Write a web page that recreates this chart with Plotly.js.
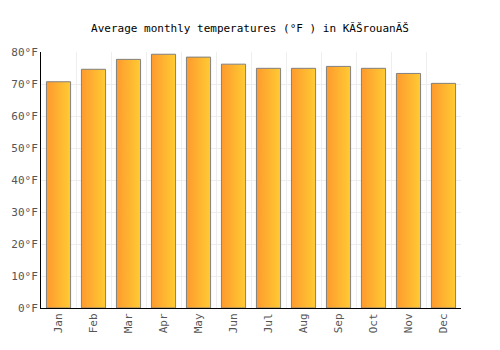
<!DOCTYPE html>
<html>
<head>
<meta charset="utf-8">
<script src="https://cdn.plot.ly/plotly-3.0.1.min.js"></script>
<style>html,body{margin:0;padding:0;background:#fff;}</style>
</head>
<body>
<div id="chart" style="width:500px;height:350px;"></div>
<script>
const months = ["Jan","Feb","Mar","Apr","May","Jun","Jul","Aug","Sep","Oct","Nov","Dec"];
const tempsF = [70.7, 74.6, 77.7, 79.3, 78.4, 76.2, 74.9, 74.9, 75.5, 74.9, 73.3, 70.2];
const yTicks = [0,10,20,30,40,50,60,70,80];

const font = "'DejaVu Sans Mono', monospace";

const data = [{
  type: "bar",
  x: months,
  y: tempsF,
  marker: { color: "#ffb030", line: { color: "#808080", width: 1 } },
  hoverinfo: "x+y"
}];

const layout = {
  width: 500, height: 350,
  margin: { l: 41, r: 39, t: 52, b: 42 },
  paper_bgcolor: "#fff", plot_bgcolor: "#fff",
  bargap: 0.31,
  showlegend: false,
  title: { text: "Average monthly temperatures (°F ) in KĂŠrouanĂŠ", font: { family: font, size: 11, color: "#000" }, x: 0.5, xanchor: "center", y: 0.92, yanchor: "middle" },
  xaxis: {
    type: "category",
    tickson: "boundaries",
    showgrid: true, gridcolor: "#eeeeee", gridwidth: 1,
    showline: true, linecolor: "#000", linewidth: 1,
    ticks: "", tickangle: -90,
    tickfont: { family: font, size: 11, color: "#555" },
    fixedrange: true
  },
  yaxis: {
    range: [0, 80],
    tickvals: yTicks,
    ticktext: yTicks.map(v => v + "°F"),
    showgrid: true, gridcolor: "#eeeeee", gridwidth: 1,
    showline: true, linecolor: "#000", linewidth: 1,
    zeroline: false,
    ticks: "", ticklen: 0,
    tickfont: { family: font, size: 11, color: "#555" },
    fixedrange: true
  }
};

function applyGradient() {
  const svg = document.querySelector("#chart .main-svg");
  if (!svg) return;
  const ns = "http://www.w3.org/2000/svg";
  let defs = svg.querySelector("defs");
  if (!defs) { defs = document.createElementNS(ns, "defs"); svg.insertBefore(defs, svg.firstChild); }
  if (!document.getElementById("barGrad")) {
    const g = document.createElementNS(ns, "linearGradient");
    g.setAttribute("id", "barGrad");
    g.setAttribute("x1", "0"); g.setAttribute("y1", "0");
    g.setAttribute("x2", "1"); g.setAttribute("y2", "0");
    const s1 = document.createElementNS(ns, "stop");
    s1.setAttribute("offset", "0"); s1.setAttribute("stop-color", "#ff9a2e");
    const s2 = document.createElementNS(ns, "stop");
    s2.setAttribute("offset", "1"); s2.setAttribute("stop-color", "#ffcb33");
    g.appendChild(s1); g.appendChild(s2);
    defs.appendChild(g);
  }
  document.querySelectorAll("#chart .bars .point path").forEach(p => {
    p.style.fill = "url(#barGrad)";
  });
}

Plotly.newPlot("chart", data, layout, { displayModeBar: false, staticPlot: true }).then(gd => {
  applyGradient();
  gd.on("plotly_afterplot", applyGradient);
});
</script>
</body>
</html>
